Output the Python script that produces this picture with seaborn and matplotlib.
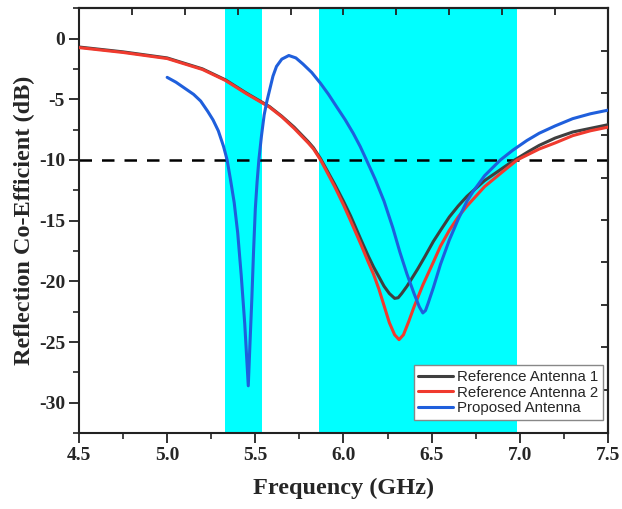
import numpy as np
import pandas as pd
import matplotlib
matplotlib.use("Agg")
import matplotlib.pyplot as plt
import seaborn as sns

# ---- data ----
ref1_f = [4.5, 4.75, 5.0, 5.2, 5.33, 5.45, 5.58, 5.65, 5.72, 5.76, 5.80, 5.83, 5.87, 5.95,
          6.00, 6.04, 6.10, 6.14, 6.17, 6.20, 6.23, 6.26, 6.29, 6.31, 6.33, 6.36, 6.42,
          6.46, 6.51, 6.55, 6.60, 6.65, 6.70, 6.80, 6.90, 6.96, 7.05, 7.11, 7.2, 7.3,
          7.4, 7.5]
ref1_db = [-0.7, -1.1, -1.6, -2.5, -3.4, -4.5, -5.6, -6.4, -7.3, -7.9, -8.5, -9.0, -9.9, -12.0,
           -13.4, -14.6, -16.6, -17.9, -18.8, -19.6, -20.4, -21.0, -21.4, -21.35, -21.0, -20.4, -19.0,
           -18.0, -16.7, -15.8, -14.7, -13.8, -13.0, -11.7, -10.7, -10.1, -9.3, -8.8, -8.2, -7.7,
           -7.4, -7.1]

ref2_f = [4.5, 4.75, 5.0, 5.2, 5.33, 5.45, 5.58, 5.65, 5.72, 5.76, 5.80, 5.83, 5.87, 5.95,
          6.00, 6.04, 6.10, 6.14, 6.17, 6.20, 6.23, 6.26, 6.29, 6.315, 6.34, 6.37, 6.40,
          6.45, 6.51, 6.55, 6.60, 6.65, 6.70, 6.80, 6.90, 6.985, 7.11, 7.2, 7.3, 7.4,
          7.5]
ref2_db = [-0.75, -1.15, -1.65, -2.55, -3.45, -4.55, -5.65, -6.45, -7.4, -8.0, -8.6, -9.1, -10.0, -12.2,
           -13.7, -15.0, -17.0, -18.4, -19.4, -20.6, -22.0, -23.4, -24.4, -24.8, -24.4, -23.3, -22.1,
           -20.3, -18.4, -17.1, -15.8, -14.7, -13.8, -12.2, -11.0, -10.0, -9.1, -8.6, -8.0, -7.6,
           -7.3]

prop_f = [5.0, 5.05, 5.1, 5.15, 5.19, 5.23, 5.26, 5.29, 5.32, 5.34, 5.36, 5.38, 5.40, 5.42,
          5.44, 5.46, 5.47, 5.48, 5.49, 5.50, 5.51, 5.52, 5.535, 5.55, 5.565, 5.58, 5.60,
          5.62, 5.65, 5.69, 5.73, 5.77, 5.82, 5.87, 5.915, 5.96, 6.01, 6.055, 6.095, 6.13,
          6.18, 6.23, 6.28, 6.32, 6.36, 6.40, 6.43, 6.45, 6.465, 6.48, 6.51, 6.55, 6.60,
          6.65, 6.70, 6.735, 6.80, 6.89, 6.96, 7.04, 7.11, 7.2, 7.3, 7.4, 7.5]
prop_db = [-3.2, -3.6, -4.1, -4.6, -5.15, -6.0, -6.7, -7.6, -8.9, -10.0, -11.7, -13.5, -16.0, -19.5,
           -23.5, -28.6, -25.0, -21.5, -17.5, -14.0, -11.8, -10.0, -8.0, -6.3, -5.2, -4.3, -3.1,
           -2.3, -1.7, -1.4, -1.6, -2.1, -2.8, -3.7, -4.6, -5.6, -6.7, -7.8, -8.9, -10.0,
           -11.6, -13.4, -15.6, -17.6, -19.4, -21.0, -22.1, -22.6, -22.4, -21.8, -20.5, -18.6, -16.6,
           -14.9, -13.4, -12.6, -11.3, -10.0, -9.2, -8.4, -7.8, -7.2, -6.6, -6.2, -5.9]

series_names = ["Reference Antenna 1", "Reference Antenna 2", "Proposed Antenna"]
series_colors = ["#3f3f3f", "#f03a2e", "#1f5fdc"]

bands = [(5.33, 5.535), (5.86, 6.985)]
threshold = -10

xlim = (4.5, 7.5)
ylim = (-32.4, 2.5)

df = pd.concat([
    pd.DataFrame({"f": ref1_f, "db": ref1_db, "s": series_names[0]}),
    pd.DataFrame({"f": ref2_f, "db": ref2_db, "s": series_names[1]}),
    pd.DataFrame({"f": prop_f, "db": prop_db, "s": series_names[2]}),
])

sns.set_theme(style="ticks")
plt.rcParams["font.family"] = ["Liberation Serif", "DejaVu Serif"]
plt.rcParams["axes.unicode_minus"] = False

fig = plt.figure(figsize=(6.22, 5.09), dpi=100)
ax = fig.add_axes([0.127, 0.149, 0.8505, 0.835])

for a, b in bands:
    ax.axvspan(a, b, color="#00ffff", lw=0, zorder=0)

ax.axhline(threshold, color="black", lw=1.8, ls=(0, (5, 4)), zorder=1)

sns.lineplot(data=df, x="f", y="db", hue="s", palette=series_colors,
             hue_order=series_names, sort=False, estimator=None,
             lw=2.2, ax=ax, zorder=3)

ax.set_xlim(*xlim)
ax.set_ylim(*ylim)
ax.set_xticks(np.arange(4.5, 7.51, 0.5))
ax.set_xticks(np.arange(4.5, 7.51, 0.25), minor=True)
ax.set_yticks(np.arange(-30, 1, 5))
ax.set_yticks(np.arange(-32.5, 2.6, 2.5), minor=True)
ax.set_xticklabels([f"{v:.1f}" for v in np.arange(4.5, 7.51, 0.5)])
ax.set_yticklabels([f"{v:d}" for v in np.arange(-30, 1, 5)])

for lab in ax.get_xticklabels() + ax.get_yticklabels():
    lab.set_fontweight("bold")
    lab.set_fontsize(14)

ax.tick_params(which="major", direction="out", length=7, width=1.3, color="#222222", pad=3)
ax.tick_params(which="minor", direction="out", length=4, width=1.2, color="#222222")

for sp in ax.spines.values():
    sp.set_linewidth(1.5)
    sp.set_color("#222222")
    sp.set_visible(True)

# mirrored top / right axes with their own equal divisions
top = ax.secondary_xaxis("top")
top.set_xticks(np.linspace(xlim[0], xlim[1], 11)[1:-1])
top.tick_params(direction="in", length=5, width=1.3, labeltop=False, color="#222222")
top.spines["top"].set_linewidth(1.5)
right = ax.secondary_yaxis("right")
right.set_yticks(np.linspace(ylim[0], ylim[1], 11)[1:-1])
right.tick_params(direction="in", length=5, width=1.3, labelright=False, color="#222222")
right.spines["right"].set_linewidth(1.5)

ax.set_xlabel("Frequency (GHz)", fontsize=17.5, fontweight="bold", labelpad=10)
ax.set_ylabel("Reflection Co-Efficient (dB)", fontsize=17.5, fontweight="bold", labelpad=3)

leg = ax.legend(loc="lower right", bbox_to_anchor=(0.9905, 0.031), borderaxespad=0,
                frameon=True, fancybox=False, edgecolor="#888888", framealpha=1,
                prop={"family": "Liberation Sans", "size": 10.8},
                handlelength=2.3, handletextpad=0.3, labelspacing=0.12,
                borderpad=0.3)
leg.get_frame().set_linewidth(1.0)

fig.savefig("out.png", dpi=100)
